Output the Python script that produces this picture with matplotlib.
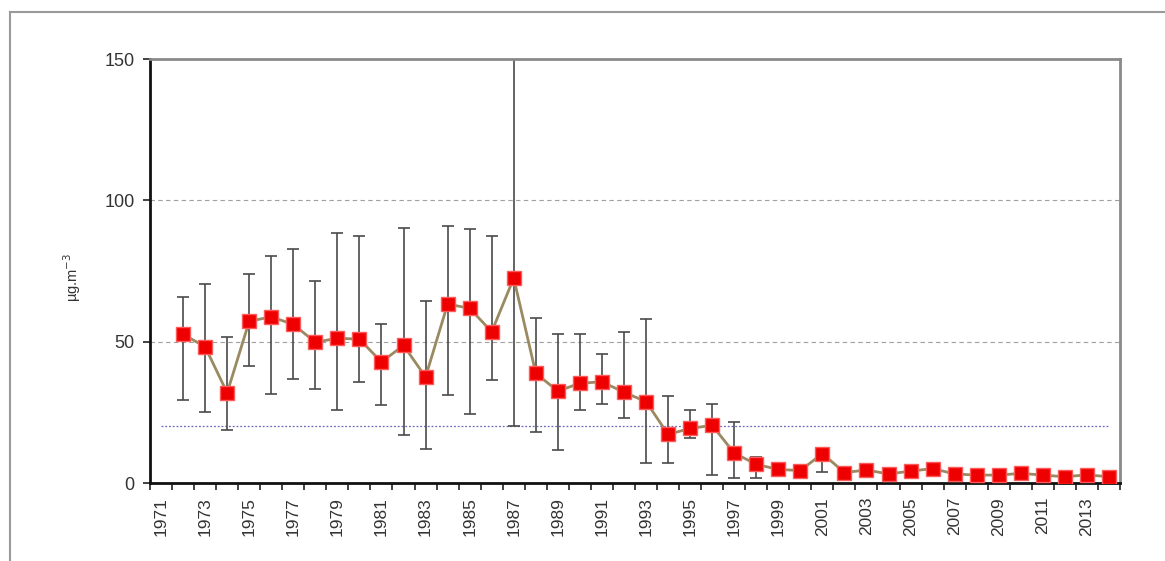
import numpy as np
import matplotlib
matplotlib.use('Agg')
import matplotlib.pyplot as plt
from matplotlib.lines import Line2D

# annual values (ug/m3) with min / max range, 1972-2014
years = list(range(1972, 2015))
mean = [52.6, 48.2, 31.9, 57.2, 58.8, 56.1, 49.8, 51.2, 50.9, 42.8,
        48.7, 37.5, 63.3, 61.8, 53.5, 72.5, 38.8, 32.5, 35.3, 35.8,
        32.1, 28.8, 17.2, 19.3, 20.4, 10.6, 6.6, 4.8, 4.4, 10.4,
        3.7, 4.6, 3.2, 4.2, 5.1, 3.2, 2.8, 2.8, 3.4, 2.8,
        2.2, 2.9, 2.2]
low = [29.2, 25.1, 18.6, 41.5, 31.5, 36.8, 33.4, 25.7, 35.7, 27.5,
       16.9, 12.1, 31.0, 24.5, 36.4, 20.3, 18.0, 11.6, 25.7, 27.9,
       22.9, 7.0, 7.0, 15.8, 2.8, 1.7, 1.7, None, None, 4.0,
       None, None, None, None, None, None, None, None, None, None,
       None, None, None]
high = [65.9, 70.3, 51.5, 73.8, 80.3, 82.7, 71.6, 88.5, 87.4, 56.4,
        90.3, 64.5, 90.9, 89.7, 87.4, 155.0, 58.5, 52.7, 52.7, 45.6,
        53.3, 57.9, 30.9, 25.7, 27.9, 21.5, 9.1, None, None, 12.0,
        None, None, None, None, None, None, None, None, None, None,
        None, None, None]
limit_value = 20
tick_years = list(range(1971, 2014, 2))

fig = plt.figure(figsize=(11.65, 5.61), dpi=100)
ax = fig.add_axes([150 / 1165, 1 - 483 / 561, 970 / 1165, 424 / 561])

txt_col = '#333333'

#gridlines + limit value
for g in [50, 100]:
    ax.axhline(g, color='#a0a0a0', lw=0.8, ls=(0, (4, 3)), zorder=1)
ax.hlines(limit_value, 1971, 2014, color='#6a6ab8', lw=0.9, ls=(0, (1.5, 1.5)), zorder=1)

#error bars, only where a range exists
eb_x, eb_y, eb_lo, eb_hi = [], [], [], []
for y, m, lo, hi in zip(years, mean, low, high):
    if lo is None:
        continue
    eb_x.append(y)
    eb_y.append(m)
    eb_lo.append(m - lo)
    eb_hi.append(hi - m)
ax.errorbar(eb_x, eb_y, yerr=[eb_lo, eb_hi], fmt='none', ecolor='#4a4a4a',
            elinewidth=1.2, capsize=4.5, capthick=1.2, zorder=2)

#line + markers
ax.plot(years, mean, color='#9a8a62', lw=2, zorder=3)
ax.plot(years, mean, ls='none', marker='s', markersize=10.5,
        markerfacecolor='#ee0000', markeredgecolor='#ff5a5a', markeredgewidth=1, zorder=4)

ax.set_xlim(1970.5, 2014.5)
ax.set_ylim(0, 150)

#ticks at category boundaries, labels centred on categories
ax.set_xticks(np.arange(1970.5, 2015, 1.0))
ax.set_xticklabels([])
ax.set_xticks(tick_years, minor=True)
ax.set_xticklabels([str(t) for t in tick_years], minor=True, rotation=90,
                   fontsize=12.5, color=txt_col, family='Liberation Sans')
ax.tick_params(axis='x', which='major', direction='out', length=5, width=1.2, color='#222222')
ax.tick_params(axis='x', which='minor', length=0, pad=10)

ax.set_yticks([0, 50, 100, 150])
ax.set_yticklabels(['0', '50', '100', '150'], fontsize=13, color=txt_col, family='Liberation Sans')
ax.tick_params(axis='y', direction='out', length=5, width=1.2, color='#222222', pad=6)

for s in ['left', 'bottom']:
    ax.spines[s].set_color('#111111')
    ax.spines[s].set_linewidth(2)
for s in ['top', 'right']:
    ax.spines[s].set_color('#8a8a8a')
    ax.spines[s].set_linewidth(2)

fig.text(72 / 1165, 1 - 277 / 561, 'µg.m$^{-3}$', rotation=90, ha='center', va='center',
         fontsize=10.5, color=txt_col, family='Liberation Sans')

#outer frame (left and top edges show in the image)
fig.add_artist(Line2D([10 / 1165, 10 / 1165], [0, 1 - 12 / 561], transform=fig.transFigure,
                      color='#9a9a9a', lw=1.5))
fig.add_artist(Line2D([10 / 1165, 1], [1 - 12 / 561, 1 - 12 / 561], transform=fig.transFigure,
                      color='#9a9a9a', lw=1.5))

fig.savefig('out.png', dpi=100)
